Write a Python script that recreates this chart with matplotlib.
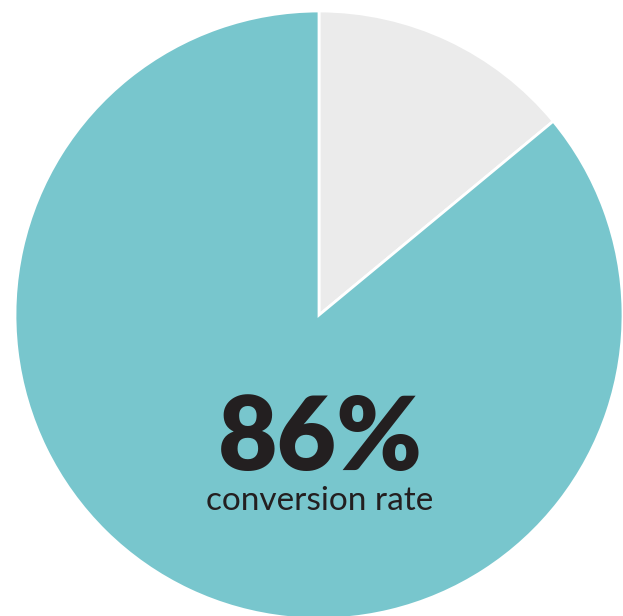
import matplotlib
matplotlib.use("Agg")
import matplotlib.pyplot as plt

# Conversion share and the remainder
labels = ["not converted", "converted"]
values = [14, 86]
colors = ["#EBEBEB", "#78C6CD"]
headline = "86%"
caption = "conversion rate"

W, H, DPI = 623, 616, 100
fig = plt.figure(figsize=(W / DPI, H / DPI), dpi=DPI)
ax = fig.add_axes([0, 0, 1, 1])

radius = 304
ax.pie(values, colors=colors, startangle=90, counterclock=False,
       radius=radius, center=(0, 0),
       wedgeprops=dict(edgecolor="white", linewidth=2))

# axes in pixel-like units so the circle sits where it should
ax.set_xlim(-319, W - 319)
ax.set_ylim(-(H - 315), 315)
ax.set_aspect("equal")
ax.axis("off")

ax.text(1, -155, headline, ha="center", va="baseline",
        fontsize=74, fontweight="heavy", family=["Lato", "DejaVu Sans"],
        color="#231F20")
ax.text(1, -195, caption, ha="center", va="baseline",
        fontsize=24, fontweight="normal", family=["Lato", "DejaVu Sans"],
        color="#231F20")

fig.savefig("out.png", dpi=DPI)
